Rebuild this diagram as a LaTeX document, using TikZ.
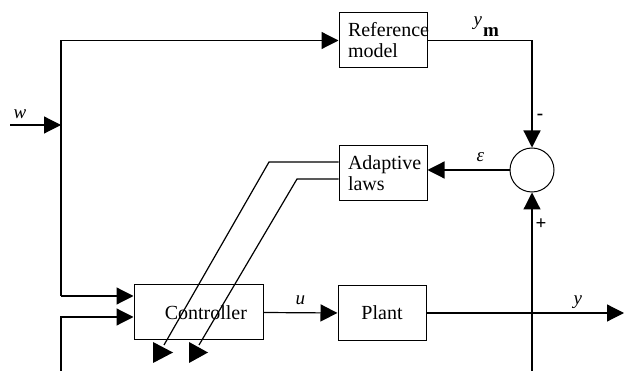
\documentclass[tikz,border=0pt]{standalone}
\usepackage{fontspec}
\setmainfont{Liberation Serif}
\usetikzlibrary{arrows.meta}
\begin{document}
\begin{tikzpicture}[x=1pt,y=-1pt,
  line width=1.2pt,
  blk/.style={draw, line width=1pt, minimum width=88pt, minimum height=55pt,
    inner xsep=9pt, inner ysep=0pt, text width=70pt, align=left,
    font=\fontsize{20}{21}\selectfont},
  arr/.style={-{Triangle[length=17pt,width=17pt]}},
  lbl/.style={font=\fontsize{19}{21}\selectfont\itshape, inner sep=0pt, anchor=base west},
  sign/.style={font=\fontsize{19}{21}\selectfont\bfseries, inner sep=0pt}]
\useasboundingbox (0,0) rectangle (624,371);

% blocks
\node[blk] (ref) at (383,40.5) {Reference\\model};
\node[blk] (adapt) at (383,173.5) {Adaptive\\laws};
\node[blk, minimum width=129pt, text width=97pt, inner xsep=16pt, align=right] (ctrl) at (198.5,312.5) {Controller};
\node[blk, align=center] (plant) at (382,313) {Plant};
\node[draw, circle, minimum size=44pt, inner sep=0pt, line width=1pt] (sum) at (532,170) {};

% junction and free-end coordinates
\coordinate (win) at (10,125);
\coordinate (jw) at (61,125);
\coordinate (jtop) at (61,40.5);
\coordinate (c1) at (61,296);
\coordinate (c2) at (61,317);
\coordinate (fb) at (61,371);
\coordinate (out) at (624,313);
\coordinate (vb) at (532,371);
\coordinate (a1) at (269,162);
\coordinate (e1) at (164,345);
\coordinate (a2) at (297,179);
\coordinate (e2) at (199,345);

% connectors
\draw[arr] (win) -- (jw);
\draw (c1) -- (jtop);
\draw[arr] (jtop) -- (ref.west);
\draw[arr] (c1) -- (ctrl.west |- c1);
\draw[arr] (fb) -- (c2) -- (ctrl.west |- c2);
\draw[arr] (ctrl.east) -- (plant.west);
\draw[arr] (plant.east) -- (out);
\draw[arr] (vb) -- (sum.south);
\draw[arr] (ref.east) -| (sum.north);
\draw[arr] (sum.west) -- (sum.west -| adapt.east);

% adaptive-law adjustment lines
\draw (adapt.west |- a1) -- (a1) -- (e1);
\draw (adapt.west |- a2) -- (a2) -- (e2);
\fill (153,342) -- (173,352.5) -- (153,363) -- cycle;
\fill (189,342) -- (208,352.5) -- (189,363) -- cycle;

% labels
\node[lbl] (lw) at (13,119) {w};
\node[lbl] (lym) at (473,26) {y\kern1pt\raisebox{-11pt}{\upshape\bfseries m}};
\node[lbl] (leps) at (476,162) {ε};
\node[lbl] (lu) at (295,305) {u};
\node[lbl] (ly) at (573,305) {y};
\node[sign] (lminus) at (540,117) {-};
\node[sign] (lplus) at (541,224) {+};
\end{tikzpicture}
\end{document}
